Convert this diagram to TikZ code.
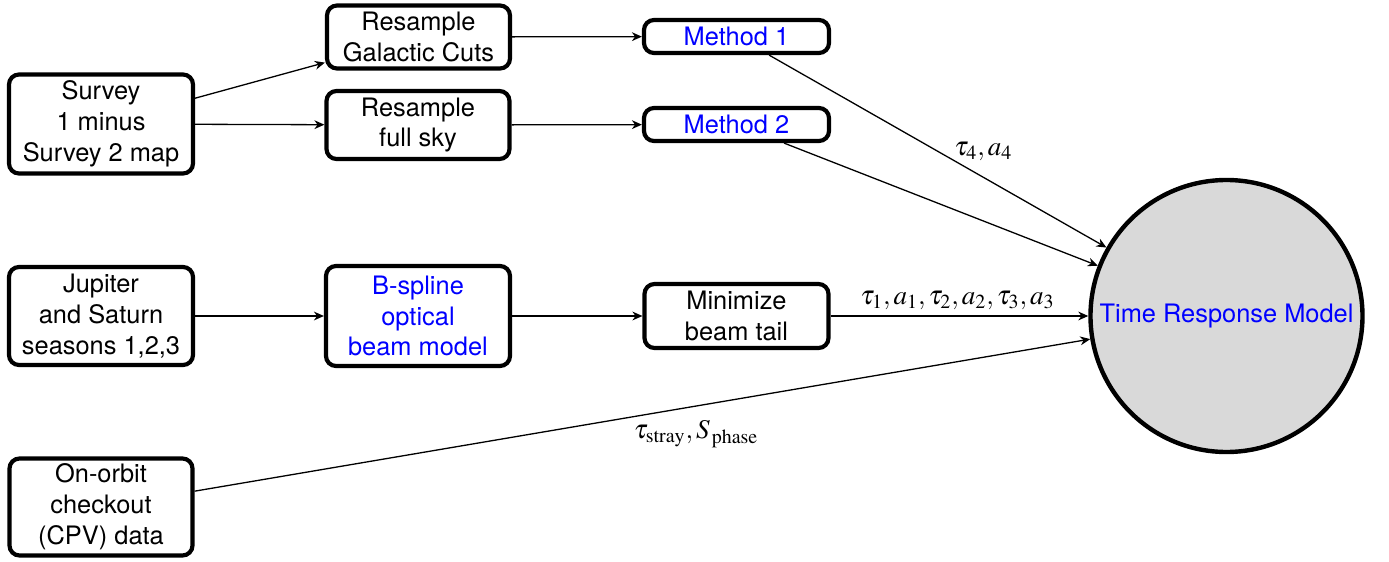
\documentclass[tikz,border=0pt]{standalone}
\usepackage{mathptmx}
\usepackage[no-math]{fontspec}
\setmainfont{TeX Gyre Heros}
\usetikzlibrary{arrows.meta}
\definecolor{txtblue}{RGB}{0,0,255}
\definecolor{circfill}{RGB}{217,217,217}
\tikzset{
  box/.style={draw=black, line width=2.1pt, rounded corners=5pt, align=center,
    inner sep=1pt, minimum width=92pt, font=\fontsize{12.7}{15.4}\selectfont},
  bluetext/.style={text=txtblue},
  conn/.style={line width=0.65pt, -{Stealth[length=5pt,width=4.4pt,inset=1.6pt]}},
  lbl/.style={font=\fontsize{13.5}{16}\selectfont, inner sep=3pt},
  bigcirc/.style={circle, draw=black, line width=2.2pt, fill=circfill,
    minimum size=136pt, inner sep=0pt, text=txtblue, font=\fontsize{12.7}{15.4}\selectfont}
}
\begin{document}
\begin{tikzpicture}[x=0.5pt,y=-0.5pt]
\useasboundingbox (0,0) rectangle (1389,562);
\node[box, minimum height=49.5pt] (survey) at (101,124) {Survey\\1 minus\\Survey 2 map};
\node[box, minimum width=91.5pt, minimum height=31.5pt] (rgc) at (418.5,37) {Resample\\Galactic Cuts};
\node[box, minimum width=91.5pt, minimum height=34pt] (rfs) at (418,125) {Resample\\full sky};
\node[box, bluetext, minimum width=92.5pt, minimum height=16.5pt] (m1) at (736.5,36.5) {Method 1};
\node[box, bluetext, minimum width=92.5pt, minimum height=16.5pt] (m2) at (736.5,124.5) {Method 2};
\node[box, minimum height=49pt] (jup) at (101,316) {Jupiter\\and Saturn\\seasons 1,2,3};
\node[box, bluetext, minimum height=50pt] (bsp) at (418,316) {B-spline\\optical\\beam model};
\node[box, minimum height=32pt] (mini) at (736.5,316) {Minimize\\beam tail};
\node[box, minimum width=91.5pt, minimum height=48.5pt] (orbit) at (101,507) {On-orbit\\checkout\\(CPV) data};
\node[bigcirc] (trm) at (1226.5,316) {Time Response Model};

\draw[conn] (survey) -- (rgc);
\draw[conn] (survey) -- (rfs);
\draw[conn] (rgc) -- (m1);
\draw[conn] (rfs) -- (m2);
\draw[conn] (m1) -- node[lbl, pos=0.5, right, xshift=5pt] {$\tau_4, a_4$} (trm);
\draw[conn] (m2) -- (trm);
\draw[conn] (jup) -- (bsp);
\draw[conn] (bsp) -- (mini);
\draw[conn] (mini) -- node[lbl, above, xshift=-1pt] {$\tau_1, a_1, \tau_2, a_2, \tau_3, a_3$} (trm);
\draw[conn] (orbit) -- node[lbl, pos=0.56, below, yshift=-4pt] {$\tau_{\mathrm{stray}}, S_{\,\mathrm{phase}}$} (trm);
\end{tikzpicture}
\end{document}
